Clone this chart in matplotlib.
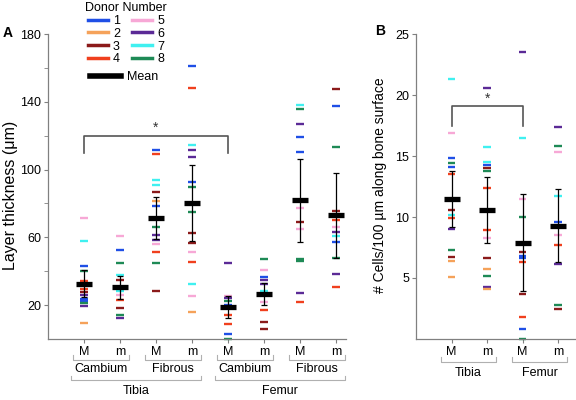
import matplotlib.pyplot as plt
from matplotlib.lines import Line2D

plt.rcParams['font.family'] = ['Liberation Sans', 'DejaVu Sans']
plt.rcParams['font.size'] = 9

# donor colours (1..8)
donor_colors = {1: '#1f4fe6', 2: '#f5a25a', 3: '#8b1a1a', 4: '#f0401e',
                5: '#f7a8d6', 6: '#5b2a96', 7: '#40f0f0', 8: '#1e8a56'}

# ---- panel A: layer thickness (um) ----
a_tick_labels = ['M', 'm', 'M', 'm', 'M', 'm', 'M', 'm']
a_tissue = ['Cambium', 'Fibrous', 'Cambium', 'Fibrous']
a_bone = ['Tibia', 'Femur']

tib_camb_M = [71.4, 58.0, 43.1, 40.3, 34.4, 29.5, 28.0, 25.8, 23.8, 22.6, 21.3, 19.7, 9.6]
tib_camb_M_donor = [5, 7, 1, 8, 4, 4, 3, 6, 1, 1, 8, 6, 2]
tib_camb_m = [60.5, 52.4, 45.0, 37.8, 34.8, 28.5, 25.8, 23.2, 18.1, 14.3, 12.4]
tib_camb_m_donor = [5, 1, 8, 7, 3, 7, 5, 4, 3, 8, 6]
tib_fib_M = [111.4, 109.0, 93.9, 90.7, 86.6, 81.3, 78.3, 66.3, 61.2, 58.7, 56.0, 51.3, 44.8, 28.2]
tib_fib_M_donor = [1, 4, 7, 7, 3, 2, 1, 8, 6, 6, 5, 4, 8, 3]
tib_fib_m = [161.3, 148.3, 114.3, 111.4, 107.4, 92.5, 89.7, 75.0, 62.6, 56.9, 51.4, 45.3, 32.5, 25.4, 15.9]
tib_fib_m_donor = [1, 4, 7, 6, 6, 1, 8, 8, 3, 3, 5, 4, 7, 5, 2]
fem_camb_M = [44.8, 25.4, 24.2, 22.6, 20.2, 13.9, 8.9, 3.2, 0.0]
fem_camb_M_donor = [6, 5, 6, 8, 1, 4, 4, 1, 8]
fem_camb_m = [47.0, 40.7, 36.8, 34.6, 32.6, 28.5, 25.8, 21.9, 16.9, 10.0, 6.1]
fem_camb_m_donor = [8, 5, 1, 6, 6, 7, 1, 5, 4, 3, 3]
fem_fib_M = [138.1, 135.8, 126.7, 119.0, 110.6, 77.2, 69.2, 64.8, 47.2, 46.0, 27.0, 22.0]
fem_fib_M_donor = [7, 8, 6, 1, 1, 5, 3, 5, 8, 8, 6, 4]
fem_fib_m = [147.6, 137.3, 113.3, 75.6, 70.4, 66.1, 63.3, 60.8, 57.1, 47.6, 38.2, 30.9]
fem_fib_m_donor = [3, 1, 8, 3, 4, 5, 6, 7, 1, 8, 6, 4]

a_means = [32.5, 30.4, 71.2, 80.1, 18.9, 26.7, 81.9, 73.0]
a_err = [8.0, 6.5, 12.4, 22.5, 6.5, 6.5, 24.5, 25.0]

# ---- panel B: cells per 100 um ----
b_tick_labels = ['M', 'm', 'M', 'm']
b_bone = ['Tibia', 'Femur']

b_tib_M = [21.3, 16.9, 14.8, 14.4, 14.1, 13.5, 10.6, 10.2, 9.9, 9.0, 7.3, 6.7, 6.4, 5.1]
b_tib_M_donor = [7, 5, 1, 8, 1, 4, 3, 7, 4, 6, 8, 3, 2, 2]
b_tib_m = [20.6, 15.7, 14.5, 14.3, 14.0, 13.8, 12.4, 8.9, 8.3, 6.6, 5.7, 5.2, 4.3, 4.1]
b_tib_m_donor = [6, 7, 7, 1, 3, 8, 4, 4, 5, 3, 2, 8, 6, 2]
b_fem_M = [23.5, 16.5, 11.45, 10.0, 7.1, 6.8, 6.6, 6.3, 3.7, 1.8, 0.8, 0.0]
b_fem_M_donor = [6, 7, 5, 8, 3, 1, 1, 4, 3, 4, 1, 8]
b_fem_m = [17.4, 15.8, 15.3, 11.7, 9.6, 8.5, 7.7, 6.15, 2.8, 2.5]
b_fem_m_donor = [6, 8, 5, 7, 1, 5, 4, 6, 8, 3]

b_means = [11.5, 10.6, 7.9, 9.3]
b_err = [2.3, 2.7, 4.0, 3.0]


def draw_columns(ax, cols, donors, means, errs):
    pos = list(range(1, len(cols) + 1))
    for x, vals, dn in zip(pos, cols, donors):
        ax.scatter([x] * len(vals), vals, marker='_', s=30, linewidths=1.7,
                   c=[donor_colors[d] for d in dn], zorder=2, clip_on=False)
    ax.errorbar(pos, means, yerr=errs, fmt='none', ecolor='black',
                elinewidth=0.9, capsize=2, capthick=0.9, zorder=3)
    ax.scatter(pos, means, marker='_', s=140, linewidths=3.8, c='black', zorder=4)


def style_axes(ax):
    for s in ['top', 'right']:
        ax.spines[s].set_visible(False)
    for s in ['left', 'bottom']:
        ax.spines[s].set_color('#808080')
        ax.spines[s].set_linewidth(0.9)
    ax.tick_params(which='both', color='#808080', length=3, labelsize=9, pad=2)


def bracket(ax, x0, x1, y, h, text, ty):
    tr = ax.get_xaxis_transform()
    ax.plot([x0, x0, x1, x1], [y + h, y, y, y + h], transform=tr,
            color='#b0b0b0', lw=0.8, clip_on=False)
    ax.text((x0 + x1) / 2, ty, text, transform=tr, ha='center', va='center', fontsize=9)


fig = plt.figure(figsize=(5.76, 4), dpi=100)
axA = fig.add_axes([48 / 576, 1 - 339 / 400, 298 / 576, 305 / 400])
axB = fig.add_axes([416 / 576, 1 - 339 / 400, 160 / 576, 305 / 400])

# panel A
draw_columns(axA,
             [tib_camb_M, tib_camb_m, tib_fib_M, tib_fib_m, fem_camb_M, fem_camb_m, fem_fib_M, fem_fib_m],
             [tib_camb_M_donor, tib_camb_m_donor, tib_fib_M_donor, tib_fib_m_donor,
              fem_camb_M_donor, fem_camb_m_donor, fem_fib_M_donor, fem_fib_m_donor],
             a_means, a_err)
style_axes(axA)
axA.set_ylim(0, 180)
axA.set_xlim(0, 8.28)
axA.set_yticks([20, 60, 100, 140, 180])
axA.set_yticks([40, 80, 120, 160], minor=True)
axA.set_xticks(range(1, 9))
axA.set_xticklabels(a_tick_labels)
axA.set_ylabel('Layer thickness (μm)', fontsize=11.5)
axA.yaxis.set_label_coords(-0.102, 0.47)
for i, t in enumerate(a_tissue):
    bracket(axA, 2 * i + 1 - 0.3, 2 * i + 2 + 0.25, -0.069, 0.016, t, -0.098)
for i, t in enumerate(a_bone):
    bracket(axA, 4 * i + 1 - 0.35, 4 * i + 4 + 0.25, -0.134, 0.013, t, -0.170)
axA.plot([1, 1, 5, 5], [110, 120, 120, 110], color='#555555', lw=1.2)
axA.text(3, 120.5, '*', ha='center', va='bottom', fontsize=10, color='#333333')

# panel B
draw_columns(axB, [b_tib_M, b_tib_m, b_fem_M, b_fem_m],
             [b_tib_M_donor, b_tib_m_donor, b_fem_M_donor, b_fem_m_donor],
             b_means, b_err)
style_axes(axB)
axB.set_ylim(0, 25)
axB.set_xlim(0, 4.5)
axB.set_yticks([5, 10, 15, 20, 25])
axB.set_xticks(range(1, 5))
axB.set_xticklabels(b_tick_labels)
axB.set_ylabel('# Cells/100 µm along bone surface', fontsize=10)
axB.yaxis.set_label_coords(-0.18, 0.505)
for i, t in enumerate(b_bone):
    bracket(axB, 2 * i + 1 - 0.3, 2 * i + 2 + 0.25, -0.075, 0.016, t, -0.111)
axB.plot([1, 1, 3, 3], [17.5, 19.1, 19.1, 17.5], color='#555555', lw=1.2)
axB.text(2, 19.15, '*', ha='center', va='bottom', fontsize=10, color='#333333')

fig.text(8 / 576, 1 - 33 / 400, 'A', weight='bold', fontsize=10, ha='center', va='center')
fig.text(380 / 576, 1 - 31 / 400, 'B', weight='bold', fontsize=10, ha='center', va='center')

# legends
donor_handles = [Line2D([], [], color=donor_colors[d], lw=2.5) for d in range(1, 9)]
fig.legend(donor_handles, [str(d) for d in range(1, 9)], ncol=2, title='Donor Number',
           frameon=False, loc='upper left', bbox_to_anchor=(84 / 576, 1 - 1 / 400),
           fontsize=9, title_fontsize=9, handlelength=1.6, handletextpad=0.4,
           columnspacing=1.0, labelspacing=0.06, borderaxespad=0, borderpad=0.1)
fig.legend([Line2D([], [], color='black', lw=4)], ['Mean'], frameon=False,
           loc='upper left', bbox_to_anchor=(90 / 576, 1 - 71 / 400), fontsize=9,
           handlelength=2.5, handletextpad=0.5, borderaxespad=0, borderpad=0)

fig.savefig('out.png', dpi=100)
